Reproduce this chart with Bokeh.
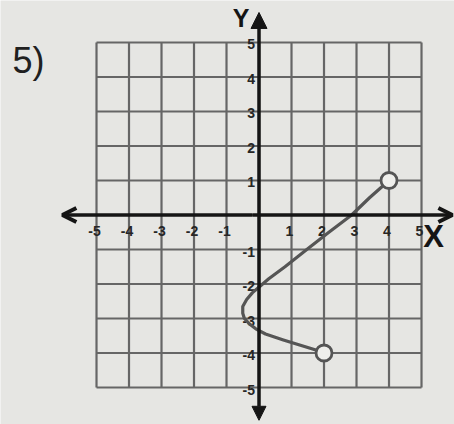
from bokeh.plotting import figure
from bokeh.models import ColumnDataSource, Arrow, OpenHead, NormalHead, Range1d
from bokeh.core.properties import value
from bokeh.embed import file_html
from bokeh.resources import INLINE

# ---- data ----
grid_vals = [-5, -4, -3, -2, -1, 0, 1, 2, 3, 4, 5]
x_tick_vals = [-5, -4, -3, -2, -1, 1, 2, 3, 4, 5]
x_tick_labels = ["-5", "-4", "-3", "-2", "-1", "1", "2", "3", "4", "5"]
y_tick_vals = [5, 4, 3, 2, 1, -1, -2, -3, -4, -5]
y_tick_labels = ["5", "4", "3", "2", "1", "-1", "-2", "-3", "-4", "-5"]

curve_x = [4.0, 3.4, 2.85, 2.15, 1.47, 0.8, 0.3, 0.05, -0.2, -0.38, -0.5, -0.5, -0.45, -0.3, -0.1, 0.2, 0.75, 1.3, 1.7, 2.0]
curve_y = [1.0, 0.5, 0.0, -0.5, -1.0, -1.5, -1.85, -2.05, -2.25, -2.45, -2.65, -2.85, -3.0, -3.15, -3.3, -3.45, -3.62, -3.78, -3.9, -4.0]
open_x = [4.0, 2.0]
open_y = [1.0, -4.0]

BG = "#e6e6e3"
GRID = "#666666"
INK = "#151515"

p = figure(width=454, height=424, output_backend="svg", toolbar_location=None,
           x_axis_location=None, y_axis_location=None, min_border=0,
           x_range=Range1d(-7.954, 6.015), y_range=Range1d(-6.072, 6.217))
p.background_fill_color = BG
p.border_fill_color = BG
p.outline_line_color = None
p.xgrid.visible = False
p.ygrid.visible = False

lo = [min(grid_vals)] * len(grid_vals)
hi = [max(grid_vals)] * len(grid_vals)
# vertical grid lines
p.segment(x0=grid_vals, y0=lo, x1=grid_vals, y1=hi, line_color=GRID, line_width=2.2)
# horizontal grid lines
p.segment(x0=lo, y0=grid_vals, x1=hi, y1=grid_vals, line_color=GRID, line_width=2.2)

# axes with arrows
p.add_layout(Arrow(x_start=-0.2, y_start=0, x_end=-6.05, y_end=0, line_color=INK, line_width=3.5,
                   end=OpenHead(size=14, line_width=4, line_color=INK)))
p.add_layout(Arrow(x_start=-0.2, y_start=0, x_end=5.95, y_end=0, line_color=INK, line_width=3.5,
                   end=OpenHead(size=14, line_width=4, line_color=INK)))
p.add_layout(Arrow(x_start=0, y_start=0, x_end=0, y_end=5.87, line_color=INK, line_width=3.5,
                   end=NormalHead(size=16, fill_color=INK, line_color=INK)))
p.add_layout(Arrow(x_start=0, y_start=0, x_end=0, y_end=-5.95, line_color=INK, line_width=3.5,
                   end=NormalHead(size=14, fill_color=INK, line_color=INK)))

# tick labels
p.text(x=x_tick_vals, y=[0] * len(x_tick_vals), text=x_tick_labels, text_align="center",
       text_baseline="middle", y_offset=16, x_offset=-2, text_font=value("Liberation Sans"),
       text_font_size="14px", text_font_style="bold", text_color="#262626")
p.text(x=[0] * len(y_tick_vals), y=y_tick_vals, text=y_tick_labels, text_align="right",
       text_baseline="middle", x_offset=-4, y_offset=2, text_font=value("Liberation Sans"),
       text_font_size="14px", text_font_style="bold", text_color="#262626")

# axis names and problem number
p.text(x=[5.37], y=[-0.61], text=["X"], text_align="center", text_baseline="middle",
       text_font=value("Liberation Sans"), text_font_size="31px", text_font_style="bold",
       text_color=INK)
p.text(x=[-0.55], y=[5.70], text=["Y"], text_align="center", text_baseline="middle",
       text_font=value("Liberation Sans"), text_font_size="25px", text_font_style="bold",
       text_color=INK)
p.text(x=[-7.09], y=[4.48], text=["5)"], text_align="center", text_baseline="middle",
       text_font=value("Liberation Sans"), text_font_size="36px", text_color="#202020")

# the curve
src = ColumnDataSource(data=dict(x=curve_x, y=curve_y))
p.line("x", "y", source=src, line_color="#555555", line_width=3.2, line_join="round", line_cap="round")
p.scatter(x=open_x, y=open_y, size=16, marker="circle", fill_color="#efefec",
          line_color="#555555", line_width=2.8)

open("out.html", "w").write(file_html(p, INLINE))
